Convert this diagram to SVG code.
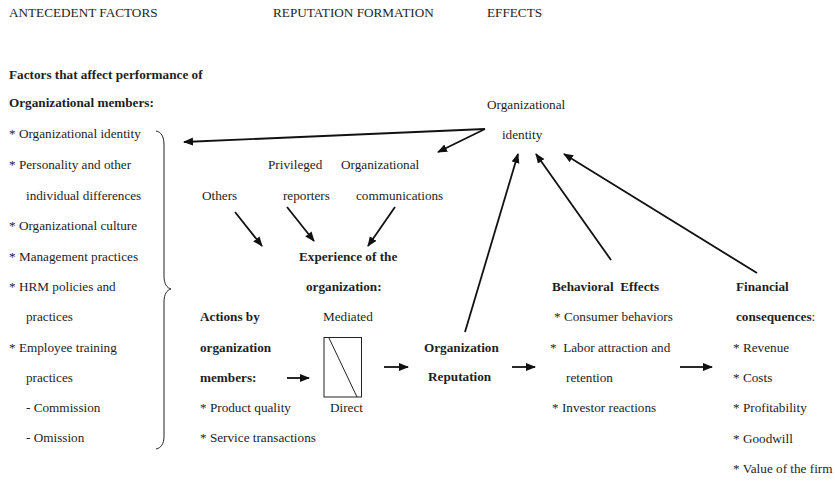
<svg xmlns="http://www.w3.org/2000/svg" width="835" height="497" viewBox="0 0 835 497">
<style>
  text { font-family: "Liberation Serif", "Times New Roman", serif; font-size: 11.7px; fill: #1e1e1e; }
  .b { font-weight: bold; }
  .ln { stroke: #111; stroke-width: 1.8; fill: none; marker-end: url(#ah); }
  .shape { stroke: #222; stroke-width: 1; fill: none; }
</style>
<defs>
  <marker id="ah" markerUnits="userSpaceOnUse" markerWidth="11" markerHeight="9" refX="9" refY="4" orient="auto">
    <path d="M0,0 L10,4 L0,8 Z" fill="#111"/>
  </marker>
</defs>
<rect width="835" height="497" fill="#fff"/>

<g id="headers" transform="scale(1.13 1)">
  <text x="7.96" y="17">ANTECEDENT FACTORS</text>
  <text x="241.6" y="17">REPUTATION FORMATION</text>
  <text x="431" y="17">EFFECTS</text>
</g>

<g id="antecedents">
  <g transform="scale(1.13 1)">
    <text class="b" x="7.96" y="79">Factors that affect performance of</text>
    <text class="b" x="7.96" y="107">Organizational members:</text>
    <text x="7.96" y="138">* Organizational identity</text>
    <text x="7.96" y="169">* Personality and other</text>
    <text x="23" y="200">individual differences</text>
    <text x="7.96" y="230">* Organizational culture</text>
    <text x="7.96" y="261">* Management practices</text>
    <text x="7.96" y="291">* HRM policies and</text>
    <text x="23" y="321">practices</text>
    <text x="7.96" y="352">* Employee training</text>
    <text x="23" y="382">practices</text>
    <text x="23" y="412">- Commission</text>
    <text x="23" y="442">- Omission</text>
  </g>
  <path class="shape" d="M156,131 C161,132 164,136 164,145 L164,276 C164,284 167,288 171,289 C167,290 164,294 164,302 L164,436 C164,444 161,448 156,449"/>
</g>

<g id="org-identity" transform="scale(1.13 1)">
  <text x="431" y="109">Organizational</text>
  <text x="444.2" y="139">identity</text>
</g>

<g id="others" transform="scale(1.13 1)">
  <text x="178.8" y="200">Others</text>
</g>

<g id="privileged-reporters" transform="scale(1.13 1)">
  <text x="237.2" y="169">Privileged</text>
  <text x="250.4" y="200">reporters</text>
</g>

<g id="org-communications" transform="scale(1.13 1)">
  <text x="301.8" y="169">Organizational</text>
  <text x="315" y="200">communications</text>
</g>

<g id="experience" transform="scale(1.13 1)">
  <text class="b" x="264.6" y="261">Experience of the</text>
  <text class="b" x="270.8" y="291">organization:</text>
</g>

<g id="actions" transform="scale(1.13 1)">
  <text class="b" x="177" y="321">Actions by</text>
  <text class="b" x="177" y="352">organization</text>
  <text class="b" x="177" y="382">members:</text>
  <text x="177" y="412">* Product quality</text>
  <text x="177" y="442">* Service transactions</text>
</g>

<g id="mediated-direct">
  <g transform="scale(1.13 1)">
    <text x="285.8" y="321">Mediated</text>
    <text x="292" y="412">Direct</text>
  </g>
  <rect class="shape" x="324" y="337.5" width="37.5" height="59.5"/>
  <line class="shape" x1="329" y1="338" x2="357" y2="397"/>
</g>

<g id="reputation" transform="scale(1.13 1)">
  <text class="b" x="375.2" y="352">Organization</text>
  <text class="b" x="378.8" y="381">Reputation</text>
</g>

<g id="behavioral-effects" transform="scale(1.13 1)">
  <text class="b" x="488.5" y="291" xml:space="preserve">Behavioral  Effects</text>
  <text x="490.3" y="321">* Consumer behaviors</text>
  <text x="486.7" y="352" xml:space="preserve">*  Labor attraction and</text>
  <text x="500.9" y="382">retention</text>
  <text x="488.5" y="412">* Investor reactions</text>
</g>

<g id="financial" transform="scale(1.13 1)">
  <text class="b" x="651.3" y="291">Financial</text>
  <text x="651.3" y="321"><tspan class="b">consequences</tspan>:</text>
  <text x="648.7" y="352">* Revenue</text>
  <text x="648.7" y="382">* Costs</text>
  <text x="648.7" y="412">* Profitability</text>
  <text x="648.7" y="443">* Goodwill</text>
  <text x="648.7" y="473">* Value of the firm</text>
</g>

<g id="connectors">
  <line class="ln" x1="485" y1="129" x2="184" y2="142"/>
  <line class="ln" x1="485" y1="129" x2="438" y2="152"/>
  <line class="ln" x1="465" y1="332" x2="518" y2="154"/>
  <line class="ln" x1="611" y1="260" x2="536" y2="154"/>
  <line class="ln" x1="757" y1="273" x2="564" y2="154"/>
  <line class="ln" x1="235" y1="212" x2="262" y2="246"/>
  <line class="ln" x1="287" y1="207" x2="314" y2="241"/>
  <line class="ln" x1="395" y1="207" x2="368" y2="246"/>
  <line class="ln" x1="287" y1="378" x2="309" y2="378"/>
  <line class="ln" x1="384" y1="367" x2="408" y2="367"/>
  <line class="ln" x1="512" y1="367" x2="535" y2="367"/>
  <line class="ln" x1="680" y1="367" x2="712" y2="367"/>
</g>
</svg>
